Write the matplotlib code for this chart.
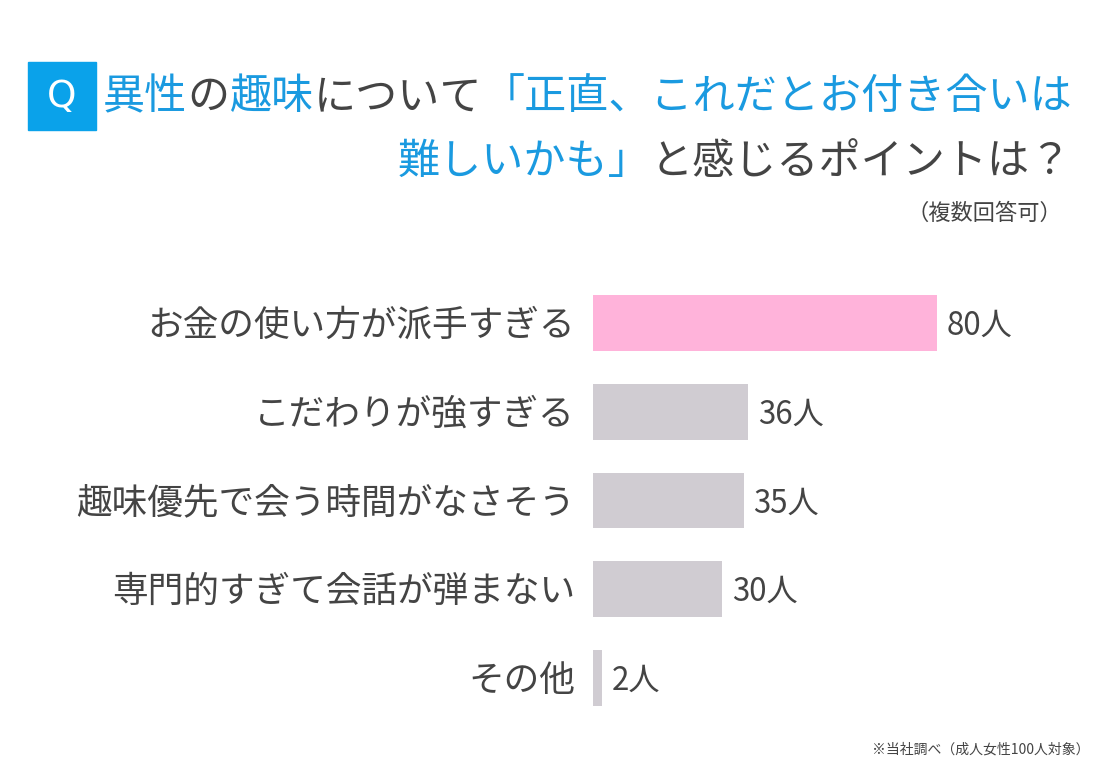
import matplotlib
matplotlib.use("Agg")
import matplotlib.pyplot as plt

plt.rcParams['font.family'] = ['Noto Sans CJK JP', 'DejaVu Sans']

categories = ["お金の使い方が派手すぎる",
              "こだわりが強すぎる",
              "趣味優先で会う時間がなさそう",
              "専門的すぎて会話が弾まない",
              "その他"]
counts = [80, 36, 35, 30, 2]
value_labels = ["80人", "36人", "35人", "30人", "2人"]

BLUE = "#1a9ae0"
DARK = "#444444"
PINK = "#ffb3da"
GRAY = "#d0ccd2"

W, H = 1100, 770
fig = plt.figure(figsize=(W / 100, H / 100), dpi=100)
fig.patch.set_facecolor("white")

# bar axes: x=0 at pixel 593, 4.3 px per person
ax = fig.add_axes([593 / W, (H - 722.4) / H, 430 / W, 443.8 / H])
ypos = list(range(len(categories)))
colors = [PINK] + [GRAY] * (len(categories) - 1)
ax.barh(ypos, counts, height=0.63, color=colors)
ax.set_xlim(0, 100)
ax.set_ylim(len(categories) - 0.5, -0.5)
ax.axis("off")

for y, cat in zip(ypos, categories):
    ax.annotate(cat, xy=(0, y), xytext=(-18, -3), textcoords="offset pixels",
                ha="right", va="center", fontsize=25.7, color=DARK)
for y, v, lab in zip(ypos, counts, value_labels):
    ax.annotate(lab, xy=(v, y), xytext=(10, -3), textcoords="offset pixels",
                ha="left", va="center", fontsize=22.5, color=DARK)

# Q box
fig.patches.append(plt.Rectangle((28 / W, (H - 130) / H), 68 / W, 68 / H,
                                 transform=fig.transFigure, color="#0aa2ea"))
fig.text(62 / W, (H - 97) / H, "Q", color="white", fontsize=27,
         ha="center", va="center", family="DejaVu Sans")

# title in coloured pieces
renderer = fig.canvas.get_renderer()


def draw_line(pieces, x_right, y_px, size=30.3):
    total = 0
    items = []
    for txt, col in pieces:
        t = fig.text(0, 0, txt, fontsize=size, color=col, va="center")
        w = t.get_window_extent(renderer).width
        items.append((t, w))
        total += w
    x = x_right - total
    for t, w in items:
        t.set_position((x / W, (H - y_px) / H))
        x += w


draw_line([("異性", BLUE), ("の", DARK), ("趣味", BLUE), ("について", DARK),
           ("「正直、これだとお付き合いは", BLUE)], 1072, 97)
draw_line([("難しいかも」", BLUE), ("と感じるポイントは？", DARK)], 1072, 162)

fig.text(1062 / W, (H - 213) / H, "（複数回答可）", fontsize=16, color=DARK,
         ha="right", va="center")
fig.text(1090 / W, (H - 750) / H, "※当社調べ（成人女性100人対象）", fontsize=10,
         color=DARK, ha="right", va="center")

fig.savefig("out.png", dpi=100, facecolor="white")
